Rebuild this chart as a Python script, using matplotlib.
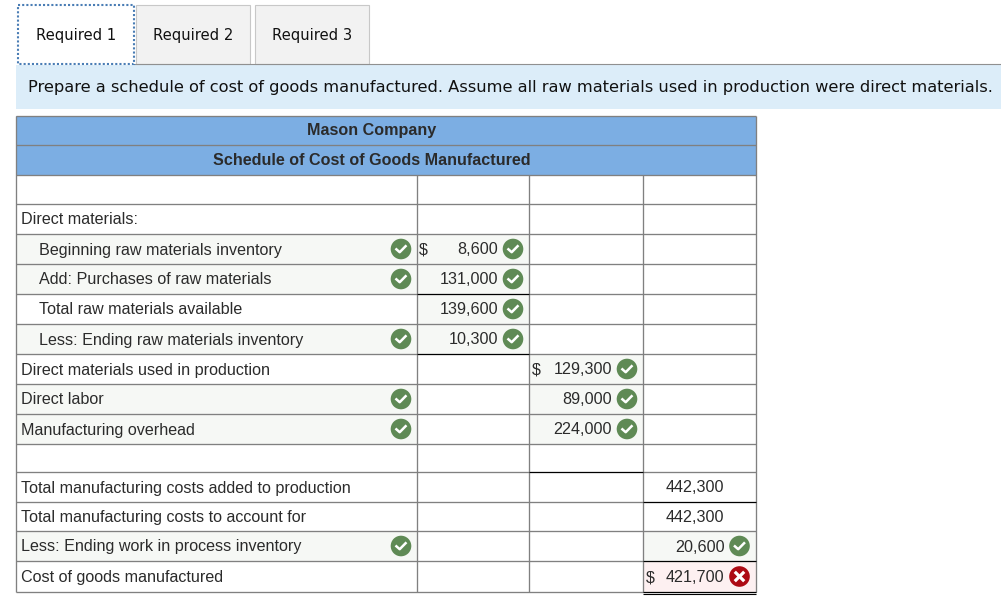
import matplotlib
matplotlib.use("Agg")
import matplotlib.pyplot as plt
from matplotlib.patches import Rectangle, Circle

# table content
tabs = ["Required 1", "Required 2", "Required 3"]
prompt = "Prepare a schedule of cost of goods manufactured. Assume all raw materials used in production were direct materials."
company = "Mason Company"
schedule = "Schedule of Cost of Goods Manufactured"

labels = ["", "Direct materials:", "Beginning raw materials inventory", "Add: Purchases of raw materials",
          "Total raw materials available", "Less: Ending raw materials inventory",
          "Direct materials used in production", "Direct labor", "Manufacturing overhead", "",
          "Total manufacturing costs added to production", "Total manufacturing costs to account for",
          "Less: Ending work in process inventory", "Cost of goods manufactured"]
indented = [0, 0, 1, 1, 1, 1, 0, 0, 0, 0, 0, 0, 0, 0]
label_ok = [0, 0, 1, 1, 0, 1, 0, 1, 1, 0, 0, 0, 1, 0]

col1 = ["", "", "8,600", "131,000", "139,600", "10,300", "", "", "", "", "", "", "", ""]
col2 = ["", "", "", "", "", "", "129,300", "89,000", "224,000", "", "", "", "", ""]
col3 = ["", "", "", "", "", "", "", "", "", "", "442,300", "442,300", "20,600", "421,700"]
col1_ok = [0, 0, 1, 1, 1, 1, 0, 0, 0, 0, 0, 0, 0, 0]
col2_ok = [0, 0, 0, 0, 0, 0, 1, 1, 1, 0, 0, 0, 0, 0]
# 1 = green check, -1 = red cross
col3_ok = [0, 0, 0, 0, 0, 0, 0, 0, 0, 0, 0, 0, 1, -1]
col1_dollar = [2]
col2_dollar = [6]
col3_dollar = [13]

# layout in pixels
row_y = [175, 204, 234, 264, 294, 324, 354, 384, 414, 444, 472, 502, 531, 561, 592]
col_x = [16, 417, 529, 643, 756]
HEAD_TOP = 116
HEAD_MID = 145
GREY = "#808080"
GREEN = "#5f8a55"
RED = "#ad0a14"
CELL = "#f6f8f5"
TXT = "#2b2b2b"
tab_font = 14.8 * 72 / 100
prompt_font = 16.3 * 72 / 100
cell_font = 16.1 * 72 / 100

fig = plt.figure(figsize=(10.01, 5.97), dpi=100)
ax = fig.add_axes([0, 0, 1, 1])
ax.set_xlim(0, 1001)
ax.set_ylim(597, 0)
ax.axis("off")


def hline(y, x0, x1, color=GREY, lw=0.95):
    ax.plot([x0, x1], [y, y], color=color, lw=lw, solid_capstyle="butt", zorder=3)


def vline(x, y0, y1, color=GREY, lw=0.95):
    ax.plot([x, x], [y0, y1], color=color, lw=lw, solid_capstyle="butt", zorder=3)


def fill(x0, y0, x1, y1, color, **kw):
    ax.add_patch(Rectangle((x0, y0), x1 - x0, y1 - y0, facecolor=color, edgecolor="none", zorder=1, **kw))


def badge(x, y, good=True):
    ax.add_patch(Circle((x, y), 10.3, facecolor=GREEN if good else RED, edgecolor="none", zorder=4))
    if good:
        ax.plot([x - 4.6, x - 1.3, x + 4.6], [y + 0.3, y + 3.2, y - 2.8], color="white", lw=1.8, zorder=5)
    else:
        ax.plot([x - 3.6, x + 3.6], [y - 3.6, y + 3.6], color="white", lw=2.3, zorder=5)
        ax.plot([x - 3.6, x + 3.6], [y + 3.6, y - 3.6], color="white", lw=2.3, zorder=5)


# tabs
tab_x = [(18, 134), (136, 250), (255, 369)]
for i, (name, (x0, x1)) in enumerate(zip(tabs, tab_x)):
    if i == 0:
        ax.add_patch(Rectangle((x0, 5), x1 - x0, 59, facecolor="white", edgecolor="#4a7db5",
                               lw=1.5, linestyle=(0, (1, 1)), zorder=4))
    else:
        ax.add_patch(Rectangle((x0, 5), x1 - x0, 59, facecolor="#f2f2f2", edgecolor="#c8c8c8", lw=0.8, zorder=2))
    ax.text((x0 + x1) / 2, 35.5, name, family="DejaVu Sans", fontsize=tab_font, color="#111111",
            ha="center", va="center", zorder=5)

# prompt band
fill(16, 65, 1001, 109, "#dcedf9")
hline(64, 134, 1001, color="#909090", lw=0.8)
ax.text(28, 87.5, prompt, family="DejaVu Sans", fontsize=prompt_font, color="#111111", va="center", zorder=5)

# header
fill(col_x[0], HEAD_TOP, col_x[-1], row_y[0], "#7caee3")
ax.text(372, 130.5, company, family="Liberation Sans", fontsize=cell_font, weight="bold", color=TXT,
        ha="center", va="center", zorder=5)
ax.text(372, 160.5, schedule, family="Liberation Sans", fontsize=cell_font, weight="bold", color=TXT,
        ha="center", va="center", zorder=5)
hline(HEAD_TOP, col_x[0], col_x[-1])
hline(HEAD_MID, col_x[0], col_x[-1])

# shaded answer cells
for i in range(len(labels)):
    y0, y1 = row_y[i], row_y[i + 1]
    if label_ok[i]:
        fill(col_x[0], y0, col_x[1], y1, CELL)
    if col1_ok[i]:
        fill(col_x[1], y0, col_x[2], y1, CELL)
    if col2_ok[i]:
        fill(col_x[2], y0, col_x[3], y1, CELL)
    if col3_ok[i] == 1:
        fill(col_x[3], y0, col_x[4], y1, CELL)
    if col3_ok[i] == -1:
        fill(col_x[3], y0, col_x[4], y1, "#fdf0f1")

# grid
for y in row_y:
    hline(y, col_x[0], col_x[-1])
vline(col_x[0], HEAD_TOP, row_y[-1])
vline(col_x[-1], HEAD_TOP, row_y[-1])
for x in col_x[1:-1]:
    vline(x, row_y[0], row_y[-1])

# black rules under subtotals
hline(294, col_x[1], col_x[2], color="black", lw=0.8)
hline(354, col_x[1], col_x[2], color="black", lw=0.8)
hline(472, col_x[2], col_x[3], color="black", lw=0.8)
hline(502, col_x[3], col_x[4], color="black", lw=0.8)
hline(561, col_x[3], col_x[4], color="black", lw=0.8)
hline(592, col_x[3], col_x[4], color="black", lw=0.8)
hline(594, col_x[3], col_x[4], color="black", lw=0.8)

# rows
for i, name in enumerate(labels):
    yc = (row_y[i] + row_y[i + 1]) / 2 + 0.5
    if name:
        ax.text(39 if indented[i] else 21, yc + 0.5, name, family="Liberation Sans", fontsize=cell_font,
                color=TXT, va="center", zorder=5)
    if label_ok[i]:
        badge(401, yc - 0.5)
    for vals, oks, dollars, right, badge_x, dollar_x in [
        (col1, col1_ok, col1_dollar, 498, 513, 419),
        (col2, col2_ok, col2_dollar, 612, 627, 532),
        (col3, col3_ok, col3_dollar, 724.5, 739.5, 646),
    ]:
        if vals[i]:
            ax.text(right, yc + 0.5, vals[i], family="Liberation Sans", fontsize=cell_font, color=TXT,
                    ha="right", va="center", zorder=5)
        if i in dollars:
            ax.text(dollar_x, yc + 0.5, "$", family="Liberation Sans", fontsize=cell_font, color=TXT,
                    va="center", zorder=5)
        if oks[i]:
            badge(badge_x, yc - 0.5, oks[i] > 0)

fig.savefig("out.png", dpi=100)
